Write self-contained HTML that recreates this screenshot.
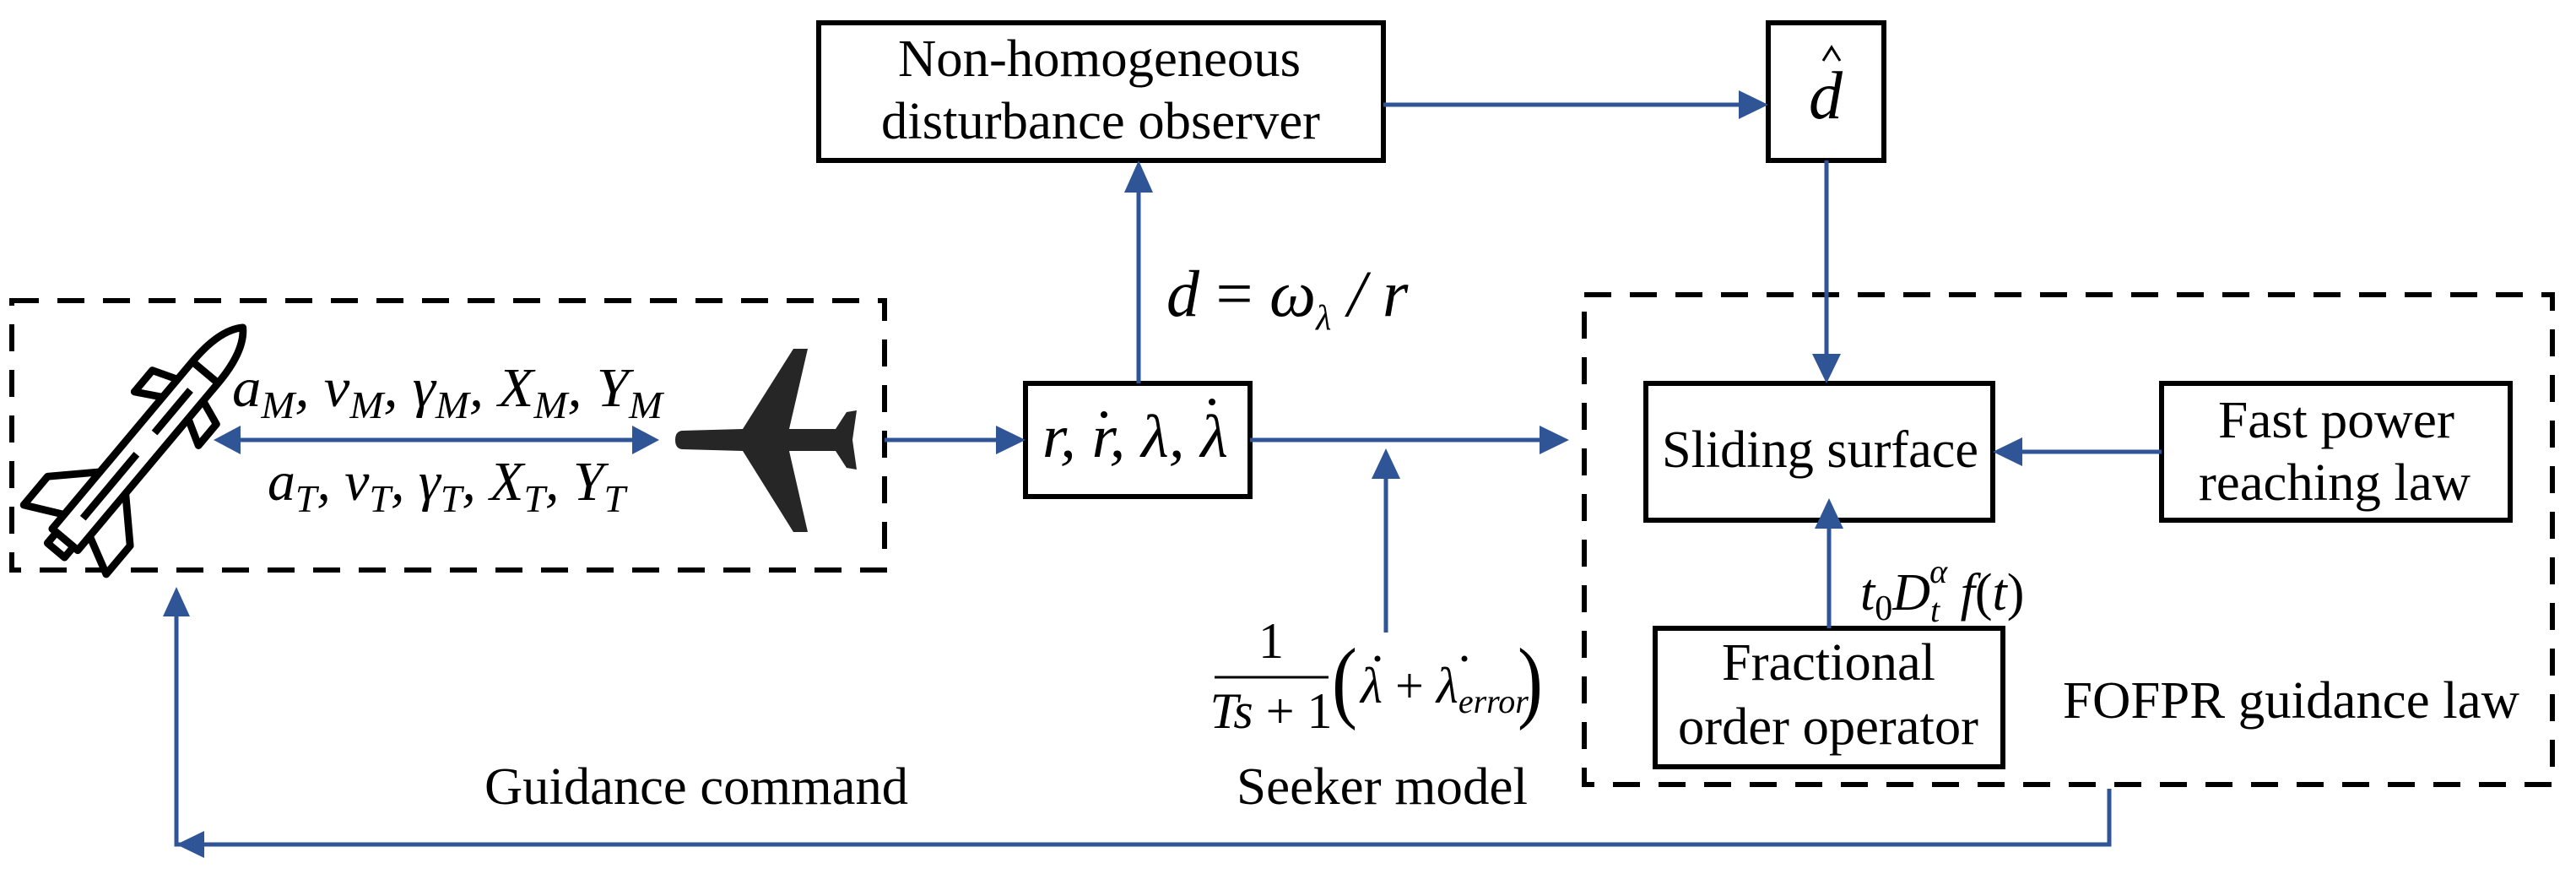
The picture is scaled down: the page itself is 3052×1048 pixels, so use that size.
<!DOCTYPE html>
<html><head><meta charset="utf-8"><style>
html,body{margin:0;padding:0;background:#fff;font-family:"Liberation Serif","DejaVu Serif",serif;}
svg{display:block;}
svg text{font-family:"Liberation Serif","DejaVu Serif",serif;fill:#000;}
.m{font-style:italic;}
</style></head><body>
<svg width="3052" height="1048" viewBox="0 0 3052 1048" xmlns="http://www.w3.org/2000/svg">
<g fill="none" stroke="#000" stroke-width="6">
<rect x="970" y="27" width="669" height="163"/>
<rect x="2095" y="27" width="137" height="163"/>
<rect x="1215" y="454" width="266" height="134"/>
<rect x="1950" y="454" width="411" height="162"/>
<rect x="2561" y="454" width="413" height="162"/>
<rect x="1961" y="744" width="412" height="164"/>
<rect x="14" y="356" width="1034" height="319" stroke-dasharray="32 22"/>
<rect x="1877" y="349" width="1147" height="580" stroke-dasharray="32 22"/>
</g>
<g stroke="#2f5597" stroke-width="5" fill="none">
<line x1="1639" y1="124" x2="2060" y2="124"/>
<line x1="1349" y1="454" x2="1349" y2="226"/>
<line x1="1048" y1="521" x2="1180" y2="521"/>
<line x1="1481" y1="521" x2="1825" y2="521"/>
<line x1="1642" y1="749" x2="1642" y2="565"/>
<line x1="2164" y1="190" x2="2164" y2="420"/>
<line x1="2561" y1="535" x2="2396" y2="535"/>
<line x1="2167" y1="744" x2="2167" y2="624"/>
<line x1="285" y1="521" x2="750" y2="521"/>
<polyline points="2499,934 2499,1000 209,1000 209,728"/>
</g>
<g fill="#2f5597">
<polygon points="2095,124 2060,107 2060,141"/>
<polygon points="1349,190 1332,228 1366,228"/>
<polygon points="1215,521 1180,504 1180,538"/>
<polygon points="1859,521 1824,504 1824,538"/>
<polygon points="1642,531 1625,567 1659,567"/>
<polygon points="2164,454 2147,419 2181,419"/>
<polygon points="2361,535 2396,518 2396,552"/>
<polygon points="2167,590 2150,626 2184,626"/>
<polygon points="253,521 285,504 285,538"/>
<polygon points="781,521 749,504 749,538"/>
<polygon points="209,695 193,730 225,730"/>
<polygon points="209,1000 242,984 242,1016"/>
</g>
<path d="M800,521 Q800,511 808,510 L880,508 L940,413 L957,413 L935,508 L990,508 L1003,488 L1015,486 L1010,521 L1015,556 L1003,554 L990,534 L935,534 L957,630 L940,630 L880,534 L808,532 Q800,531 800,521 Z" fill="#262626"/>
<g transform="translate(176,521) rotate(-50) scale(1.1)" fill="none" stroke="#000" stroke-width="8" stroke-linejoin="round">
<path d="M-140,-18 L95,-18 Q140,-18 158,0 Q140,18 95,18 L-140,18 Z"/>
<line x1="95" y1="-18" x2="95" y2="18"/>
<rect x="-155" y="-12" width="15" height="24"/>
<path d="M-60,-18 L-100,-58 L-140,-58 L-120,-18"/>
<path d="M-60,18 L-100,58 L-140,58 L-120,18"/>
<path d="M45,-18 L30,-45 L60,-45 L70,-18"/>
<path d="M45,18 L30,45 L60,45 L70,18"/>
<line x1="-110" y1="0" x2="-20" y2="0"/>
<line x1="10" y1="0" x2="70" y2="0"/>
</g>
<text x="1064" y="90" font-size="62" textLength="477" lengthAdjust="spacingAndGlyphs">Non-homogeneous</text>
<text x="1044" y="164" font-size="62" textLength="520" lengthAdjust="spacingAndGlyphs">disturbance observer</text>
<text x="2163" y="140" font-size="80" class="m" text-anchor="middle">d</text>
<path d="M2160,72 L2170,56 L2180,72" fill="none" stroke="#000" stroke-width="3"/>
<text x="1969" y="553" font-size="62" textLength="375" lengthAdjust="spacingAndGlyphs">Sliding surface</text>
<text x="2628" y="518" font-size="62" textLength="280" lengthAdjust="spacingAndGlyphs">Fast power</text>
<text x="2605" y="592" font-size="62" textLength="322" lengthAdjust="spacingAndGlyphs">reaching law</text>
<text x="2040" y="805" font-size="62" textLength="253" lengthAdjust="spacingAndGlyphs">Fractional</text>
<text x="1988" y="881" font-size="62" textLength="356" lengthAdjust="spacingAndGlyphs">order operator</text>
<text x="2444" y="850" font-size="62" textLength="541" lengthAdjust="spacingAndGlyphs">FOFPR guidance law</text>
<text x="574" y="952" font-size="62" textLength="502" lengthAdjust="spacingAndGlyphs">Guidance command</text>
<text x="1465" y="952" font-size="62" textLength="345" lengthAdjust="spacingAndGlyphs">Seeker model</text>
<text x="275" y="481" font-size="66" class="m" textLength="510" lengthAdjust="spacingAndGlyphs">a<tspan font-size="46" dy="14">M</tspan><tspan dy="-14">, v</tspan><tspan font-size="46" dy="14">M</tspan><tspan dy="-14">, γ</tspan><tspan font-size="46" dy="14">M</tspan><tspan dy="-14">, X</tspan><tspan font-size="46" dy="14">M</tspan><tspan dy="-14">, Y</tspan><tspan font-size="46" dy="14">M</tspan></text>
<text x="317" y="592" font-size="66" class="m" textLength="424" lengthAdjust="spacingAndGlyphs">a<tspan font-size="46" dy="14">T</tspan><tspan dy="-14">, v</tspan><tspan font-size="46" dy="14">T</tspan><tspan dy="-14">, γ</tspan><tspan font-size="46" dy="14">T</tspan><tspan dy="-14">, X</tspan><tspan font-size="46" dy="14">T</tspan><tspan dy="-14">, Y</tspan><tspan font-size="46" dy="14">T</tspan></text>
<text x="1382" y="374" font-size="78" class="m">d <tspan font-style="normal">=</tspan> ω<tspan font-size="42" dy="16">λ</tspan><tspan dy="-16"> / r</tspan></text>
<text x="1235" y="541" font-size="72" class="m" textLength="220" lengthAdjust="spacingAndGlyphs">r, r, λ, λ</text>
<circle cx="1308" cy="491" r="4" fill="#000"/>
<circle cx="1436" cy="476" r="4" fill="#000"/>
<text x="1506" y="779" font-size="60" text-anchor="middle">1</text>
<line x1="1439" y1="802" x2="1574" y2="802" stroke="#000" stroke-width="3"/>
<text x="1506" y="862" font-size="60" text-anchor="middle" class="m">Ts <tspan font-style="normal">+ 1</tspan></text>
<text x="1578" y="842" font-size="90" transform="translate(1578,842) scale(1,1.2) translate(-1578,-842)">(</text>
<text x="1612" y="832" font-size="60" class="m">λ <tspan font-style="normal">+</tspan> λ<tspan font-size="40" dy="12">error</tspan></text>
<circle cx="1632" cy="780" r="3.5" fill="#000"/>
<circle cx="1735" cy="780" r="3.5" fill="#000"/>
<text x="1798" y="842" font-size="90" transform="translate(1798,842) scale(1,1.2) translate(-1798,-842)">)</text>
<text x="2204" y="722" font-size="62" class="m">t<tspan font-size="42" dy="12" font-style="normal">0</tspan><tspan dy="-12">D</tspan><tspan font-size="40" dy="14">t</tspan><tspan font-size="40" dx="-12" dy="-46">α</tspan><tspan dy="32"> f</tspan><tspan font-style="normal">(</tspan>t<tspan font-style="normal">)</tspan></text>
</svg>
</body></html>
